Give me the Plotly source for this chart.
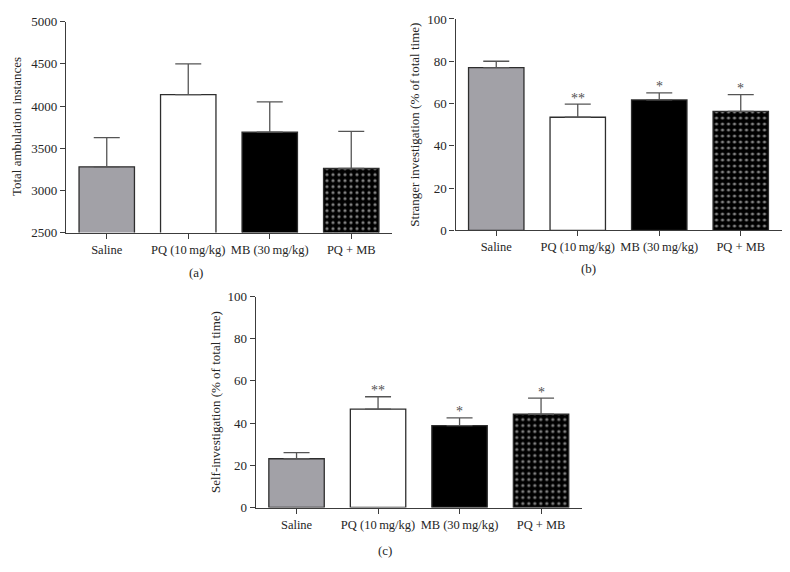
import plotly.graph_objects as go

# ---------------- data ----------------
groups = ["Saline", "PQ (10\u2009mg/kg)", "MB (30\u2009mg/kg)", "PQ + MB"]

ambulation_mean = [3280, 4135, 3690, 3260]
ambulation_sem = [345, 365, 360, 440]

stranger_mean = [77.0, 53.5, 61.7, 56.3]
stranger_sem = [3.0, 6.2, 3.3, 7.9]
stranger_sig = ["", "**", "*", "*"]

self_mean = [23.1, 46.6, 38.8, 44.2]
self_sem = [2.9, 5.9, 3.7, 7.6]
self_sig = ["", "**", "*", "*"]

ambulation_ticks = [2500, 3000, 3500, 4000, 4500, 5000]
percent_ticks = [0, 20, 40, 60, 80, 100]

# ---------------- style ----------------
W, H = 790, 572
FONT = "Liberation Serif"
FS = 13
XFS = 12.5
TXT = "#262626"
AX = "#3c3c3c"
bar_colors = ["#a2a1a7", "#ffffff", "#000000", "#000000"]
pat_shapes = ["", "", "", "."]


def px_x(p):
    return p / W


def px_y(p):
    return 1 - p / H


fig = go.Figure()

panels = [
    (ambulation_mean, ambulation_sem, None, "x", "y", (66, 392), (15, 231.7), [2500, 5000],
     ambulation_ticks, "Total ambulation instances", 16, "(a)", (196, 273)),
    (stranger_mean, stranger_sem, stranger_sig, "x2", "y2", (455.5, 781.5), (12.3, 229.3), [0, 100],
     percent_ticks, "Stranger investigation (% of total time)", 415, "(b)", (588, 269)),
    (self_mean, self_sem, self_sig, "x3", "y3", (255.8, 581.8), (297.3, 514), [0, 100],
     percent_ticks, "Self-investigation (% of total time)", 215, "(c)", (385, 558)),
]

annotations = []
for i, (means, sems, sig, xa, ya, xd, yd, rng, ticks, title, tx, lab, lxy) in enumerate(panels):
    fig.add_trace(go.Bar(
        x=groups, y=means, xaxis=xa, yaxis=ya, width=0.68,
        marker=dict(
            color=bar_colors,
            line=dict(color="#2e2e2e", width=1.3),
            pattern=dict(shape=pat_shapes, fgcolor="#ffffff",
                         size=6, solidity=0.23, fillmode="overlay"),
        ),
        error_y=dict(type="data", array=sems, arrayminus=[0] * len(sems), symmetric=False,
                     color="#555555", thickness=1.3, width=13),
        showlegend=False, hoverinfo="skip",
    ))
    suffix = "" if i == 0 else str(i + 1)
    fig.layout["xaxis" + suffix] = dict(
        domain=[px_x(xd[0]), px_x(xd[1])], anchor=ya, range=[-0.5, 3.5],
        showline=True, linecolor=AX, linewidth=1.3, ticks="outside", ticklen=5,
        tickcolor=AX, tickwidth=1.3, showgrid=False, zeroline=False, tickangle=0,
        tickfont=dict(family=FONT, size=XFS, color=TXT), fixedrange=True,
    )
    fig.layout["yaxis" + suffix] = dict(
        domain=[px_y(yd[1]), px_y(yd[0])], anchor=xa, range=rng,
        tickvals=ticks, showline=True, linecolor=AX, linewidth=1.3,
        ticks="outside", ticklen=5, tickcolor=AX, tickwidth=1.3,
        showgrid=False, zeroline=False,
        tickfont=dict(family=FONT, size=FS, color=TXT), fixedrange=True,
    )
    annotations.append(dict(
        text=title, textangle=-90, xref="paper", yref="paper",
        x=px_x(tx), y=px_y((yd[0] + yd[1]) / 2), xanchor="center", yanchor="middle",
        showarrow=False, font=dict(family=FONT, size=FS, color=TXT),
    ))
    annotations.append(dict(
        text=lab, xref="paper", yref="paper", x=px_x(lxy[0]), y=px_y(lxy[1]),
        xanchor="center", yanchor="middle", showarrow=False,
        font=dict(family=FONT, size=FS, color=TXT),
    ))
    if sig:
        for g, m, s, t in zip(groups, means, sems, sig):
            if t:
                annotations.append(dict(
                    text=t, x=g, y=m + s, xref=xa, yref=ya, xanchor="center",
                    yanchor="middle", yshift=6, showarrow=False,
                    font=dict(family=FONT, size=14, color="#505050"),
                ))

fig.update_layout(
    width=W, height=H, margin=dict(l=0, r=0, t=0, b=0),
    paper_bgcolor="white", plot_bgcolor="white",
    annotations=annotations, showlegend=False,
)

fig.write_html(
    "out.html",
    config={"displayModeBar": False},
    post_script=(
        "document.body.style.margin='0';"
        "document.body.style.overflow='hidden';"
        "document.documentElement.style.overflow='hidden';"
    ),
)
